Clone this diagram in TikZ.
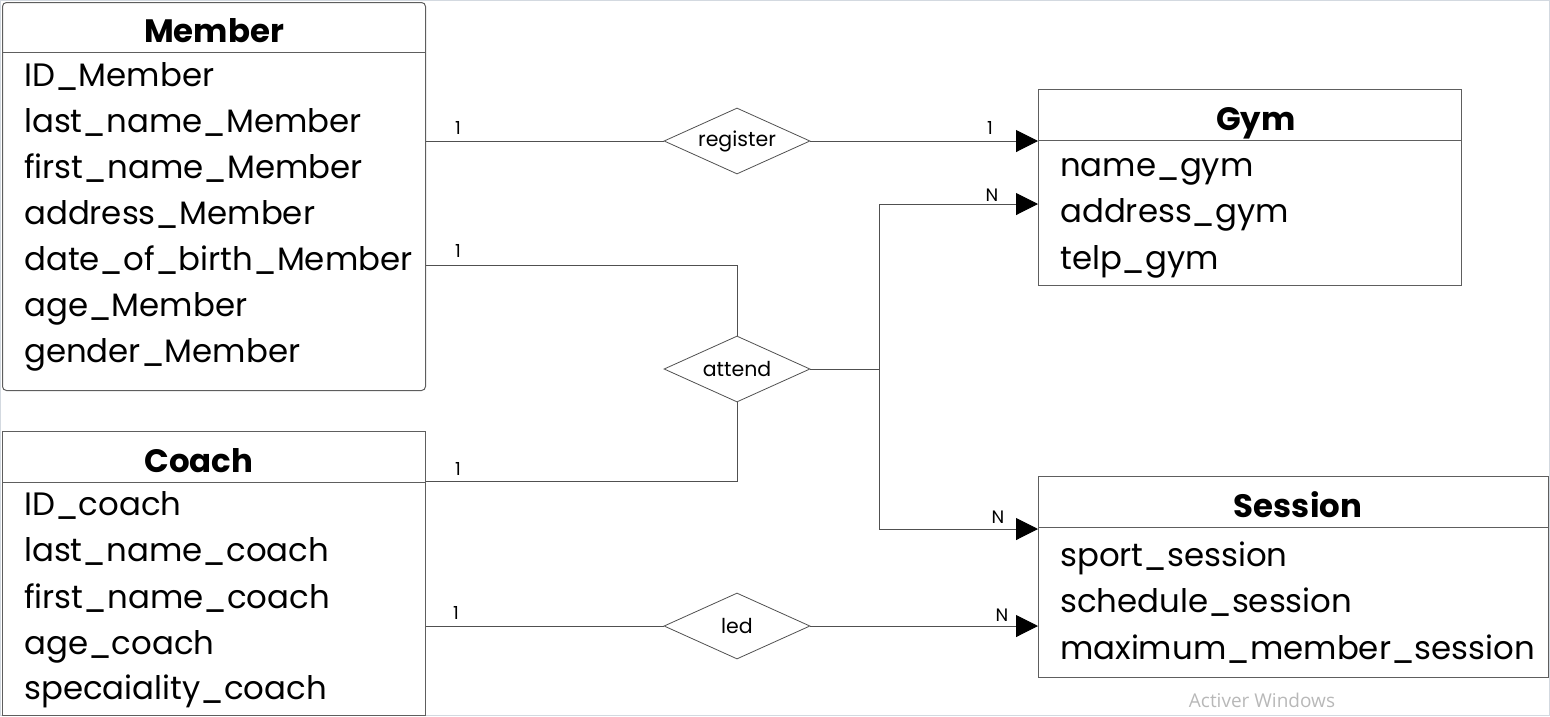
\documentclass[tikz,border=0pt]{standalone}
\usepackage{fontspec}
\setmainfont{Poppins}
\newfontfamily\wmfont{Open Sans}
\usetikzlibrary{shapes.geometric,arrows.meta}
\definecolor{boxgray}{HTML}{5E5E5E}
\definecolor{linegray}{HTML}{505050}
\definecolor{framegray}{HTML}{D3D9E0}
\definecolor{wmgray}{HTML}{B8B8B8}
\begin{document}
\begin{tikzpicture}[x=1pt,y=-1pt,
  box/.style={draw=boxgray, line width=1pt, inner sep=0pt, anchor=north west},
  hline/.style={draw=boxgray, line width=1pt},
  attr/.style={anchor=base west, inner sep=0pt, font=\fontsize{32.4}{38}\selectfont},
  ttl/.style={anchor=base, inner sep=0pt, font=\fontsize{32.4}{38}\selectfont\bfseries},
  rel/.style={diamond, draw=linegray, line width=0.8pt, minimum width=146pt, minimum height=66pt, inner sep=0pt, aspect=2.2},
  reltext/.style={inner sep=0pt, font=\fontsize{20.5}{24}\selectfont},
  conn/.style={draw=linegray, line width=1pt},
  arr/.style={conn, -{Triangle[length=22pt,width=22pt,black]}},
  card/.style={anchor=base, inner sep=0pt, font=\fontsize{18}{21}\selectfont}
]
\useasboundingbox (0,0) rectangle (1550,716);
\draw[framegray, line width=1pt] (0.5,0.5) rectangle (1549.5,715.5);

% Member
\node[box, rounded corners=4pt, minimum width=423pt, minimum height=388pt] (mem) at (2,2) {};
\draw[hline] (2,52) -- (425,52);
\node[ttl] (memt) at (214,42) {Member};
\node[attr] (m1) at (24,86) {ID\_Member};
\node[attr] (m2) at (24,132) {last\_name\_Member};
\node[attr] (m3) at (24,178) {first\_name\_Member};
\node[attr] (m4) at (24,224) {address\_Member};
\node[attr] (m5) at (24,270) {date\_of\_birth\_Member};
\node[attr] (m6) at (24,316) {age\_Member};
\node[attr] (m7) at (24,362) {gender\_Member};

% Coach
\node[box, minimum width=423pt, minimum height=284pt] (coa) at (2,431) {};
\draw[hline] (2,482) -- (425,482);
\node[ttl] (coat) at (199,472) {Coach};
\node[attr] (c1) at (24,515) {ID\_coach};
\node[attr] (c2) at (24,561) {last\_name\_coach};
\node[attr] (c3) at (24,608) {first\_name\_coach};
\node[attr] (c4) at (24,654) {age\_coach};
\node[attr] (c5) at (24,699) {specaiality\_coach};

% Gym
\node[box, minimum width=423pt, minimum height=196pt] (gym) at (1038,89) {};
\draw[hline] (1038,140) -- (1461,140);
\node[ttl] (gymt) at (1256,130) {Gym};
\node[attr] (g1) at (1060,176) {name\_gym};
\node[attr] (g2) at (1060,222) {address\_gym};
\node[attr] (g3) at (1060,269) {telp\_gym};

% Session
\node[box, minimum width=510pt, minimum height=201pt] (ses) at (1038,476) {};
\draw[hline] (1038,527) -- (1548,527);
\node[ttl] (sest) at (1298,517) {Session};
\node[attr] (s1) at (1060,566) {sport\_session};
\node[attr] (s2) at (1060,612) {schedule\_session};
\node[attr] (s3) at (1060,659) {maximum\_member\_session};

% relationships
\node[rel] (reg) at (737,141) {};
\node[reltext] at (reg.center) {register};
\node[rel] (att) at (737,369) {};
\node[reltext] at (att.center) {attend};
\node[rel] (led) at (737,626) {};
\node[reltext] at (led.center) {led};

\coordinate (j) at (879,369);

% connectors
\draw[conn] (mem.east |- reg.west) -- (reg.west);
\draw[arr] (reg.east) -- (gym.west |- reg.east);
\draw[conn] (mem.east |- 0,265) -| (att.north);
\draw[conn] (coa.east |- 0,481) -| (att.south);
\draw[conn] (att.east) -- (j);
\draw[arr] (j) |- (gym.west |- 0,204);
\draw[arr] (j) |- (ses.west |- 0,529);
\draw[conn] (coa.east |- led.west) -- (led.west);
\draw[arr] (led.east) -- (ses.west |- led.east);

% cardinalities
\node[card] at (458,134) {1};
\node[card] at (990,134) {1};
\node[card] at (458,257) {1};
\node[card] at (458,475) {1};
\node[card] at (992,201) {N};
\node[card] at (998,523) {N};
\node[card] at (456,619) {1};
\node[card] at (1002,621) {N};

% watermark
\node[anchor=base, inner sep=0pt, text=wmgray, font=\wmfont\fontsize{19}{22}\selectfont] at (1262,707) {Activer Windows};
\end{tikzpicture}
\end{document}
